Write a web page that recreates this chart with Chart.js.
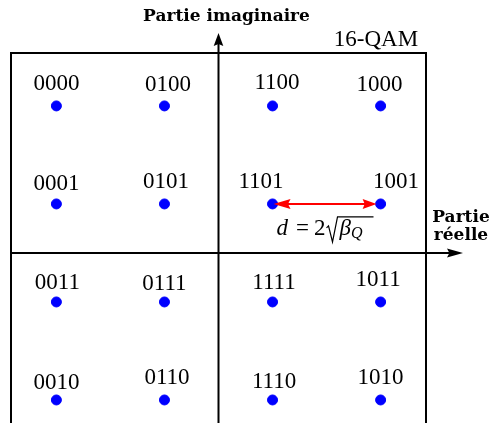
<!DOCTYPE html>
<html>
<head>
<meta charset="utf-8">
<script src="https://cdn.jsdelivr.net/npm/chart.js@4/dist/chart.umd.min.js"></script>
<style>
  html, body { margin: 0; padding: 0; background: #fff; }
  #wrap { width: 489px; height: 423px; }
</style>
</head>
<body>
<div id="wrap"><canvas id="qam" width="489" height="423"></canvas></div>
<script>
// constellation 16-QAM (codage Gray)
const symbols = ['0000', '0100', '1100', '1000',
                 '0001', '0101', '1101', '1001',
                 '0011', '0111', '1111', '1011',
                 '0010', '0110', '1110', '1010'];
const iValues = [-3, -1, 1, 3, -3, -1, 1, 3, -3, -1, 1, 3, -3, -1, 1, 3];
const qValues = [3, 3, 3, 3, 1, 1, 1, 1, -1, -1, -1, -1, -3, -3, -3, -3];
// distance arrow between 1101 and 1001
const distFrom = [1, 1];
const distTo = [3, 1];

// small label nudges (px), purely cosmetic
const labelDx = [0, 3.5, 4.5, -1, 0, 1.5, -11.5, 15.5, 1, 0, 1.5, -2.5, 0, 2.5, 1.5, 0];
const labelDy = [-1.5, -0.5, -2.5, -0.5, 0, -2, -2, -2, 1, 2, 1, -2, 3, -2, 2, -2];

const serif = '"Liberation Serif", "DejaVu Serif", serif';

function arrowHead(ctx, x, y, ang, len, half) {
  ctx.save();
  ctx.translate(x, y);
  ctx.rotate(ang);
  ctx.beginPath();
  ctx.moveTo(0, 0);
  ctx.lineTo(-len, -half);
  ctx.lineTo(-len * 0.85, 0);
  ctx.lineTo(-len, half);
  ctx.closePath();
  ctx.fill();
  ctx.restore();
}

const framePlugin = {
  id: 'frame',
  beforeDatasetsDraw(chart) {
    const ctx = chart.ctx, a = chart.chartArea;
    const xs = chart.scales.x, ys = chart.scales.y;
    const x0 = xs.getPixelForValue(0), y0 = ys.getPixelForValue(0);
    ctx.save();
    ctx.strokeStyle = '#000';
    ctx.fillStyle = '#000';
    ctx.lineWidth = 2;
    // box (open at the bottom, cut by the picture)
    ctx.beginPath();
    ctx.moveTo(a.left, a.bottom + 5);
    ctx.lineTo(a.left, a.top);
    ctx.lineTo(a.right, a.top);
    ctx.lineTo(a.right, a.bottom + 5);
    ctx.stroke();
    // axes
    ctx.beginPath();
    ctx.moveTo(x0, a.bottom + 5);
    ctx.lineTo(x0, a.top - 10);
    ctx.moveTo(a.left, y0);
    ctx.lineTo(a.right + 25, y0);
    ctx.stroke();
    arrowHead(ctx, x0, a.top - 20, -Math.PI / 2, 13, 4.8);
    arrowHead(ctx, a.right + 37, y0, 0, 16, 4.5);

    // axis titles
    ctx.font = 'bold 17px "DejaVu Serif", serif';
    ctx.textAlign = 'center';
    ctx.textBaseline = 'alphabetic';
    ctx.fillText('Partie imaginaire', x0 + 8, 21);
    ctx.fillText('Partie', a.right + 35, 222);
    ctx.fillText('r\u00e9elle', a.right + 35, 240);

    ctx.font = '23px ' + serif;
    ctx.fillText('16-QAM', a.right - 50, 46);
    ctx.restore();
  },
  afterDatasetsDraw(chart) {
    const ctx = chart.ctx;
    const xs = chart.scales.x, ys = chart.scales.y;
    ctx.save();
    // symbol labels
    ctx.fillStyle = '#000';
    ctx.font = '23px ' + serif;
    ctx.textAlign = 'center';
    ctx.textBaseline = 'alphabetic';
    symbols.forEach((s, i) => {
      const px = xs.getPixelForValue(iValues[i]) + labelDx[i];
      const py = ys.getPixelForValue(qValues[i]) - 14 + labelDy[i];
      ctx.fillText(s, px, py);
    });

    // red distance arrow
    const ax = xs.getPixelForValue(distFrom[0]) + 1;
    const bx = xs.getPixelForValue(distTo[0]) - 4;
    const ay = ys.getPixelForValue(distFrom[1]);
    ctx.strokeStyle = '#ff0000';
    ctx.fillStyle = '#ff0000';
    ctx.lineWidth = 2;
    ctx.beginPath();
    ctx.moveTo(ax + 12, ay);
    ctx.lineTo(bx - 10, ay);
    ctx.stroke();
    arrowHead(ctx, ax, ay, Math.PI, 17, 5);
    arrowHead(ctx, bx, ay, 0, 14, 5);

    // d = 2 sqrt(beta_Q)
    ctx.fillStyle = '#000';
    ctx.strokeStyle = '#000';
    ctx.textAlign = 'left';
    const y = ay + 31;
    let x = ax + 3;
    ctx.font = 'italic 23px ' + serif;
    ctx.fillText('d', x, y);
    x += ctx.measureText('d').width + 8;
    ctx.font = '23px ' + serif;
    ctx.fillText('=', x, y);
    x += ctx.measureText('=').width + 5;
    ctx.fillText('2', x, y);
    x += ctx.measureText('2').width;
    // radical drawn by hand
    ctx.lineWidth = 1.2;
    ctx.beginPath();
    ctx.moveTo(x + 1, y - 7);
    ctx.lineTo(x + 3, y - 9);
    ctx.lineTo(x + 7, y + 7);
    ctx.lineTo(x + 12, y - 18);
    ctx.lineTo(x + 48, y - 18);
    ctx.stroke();
    x += 14;
    ctx.font = 'italic 23px ' + serif;
    const bw = ctx.measureText('\u03b2').width;
    ctx.fillText('\u03b2', x, y);
    ctx.font = 'italic 16px ' + serif;
    ctx.fillText('Q', x + bw, y + 3);
    ctx.restore();
  }
};

const points = iValues.map((v, i) => ({ x: v, y: qValues[i] }));

new Chart(document.getElementById('qam'), {
  type: 'scatter',
  data: {
    datasets: [{
      label: '16-QAM',
      data: points,
      backgroundColor: '#0000ff',
      borderColor: '#0000ff',
      pointRadius: 5,
      pointHoverRadius: 5,
      clip: false
    }]
  },
  options: {
    responsive: false,
    animation: false,
    events: [],
    layout: { autoPadding: false, padding: { left: 11, right: 63, top: 53, bottom: 0 } },
    scales: {
      x: { type: 'linear', display: false, min: -3.84, max: 3.84 },
      y: { type: 'linear', display: false, min: -3.47, max: 4.08 }
    },
    plugins: {
      legend: { display: false },
      tooltip: { enabled: false }
    }
  },
  plugins: [framePlugin]
});
</script>
</body>
</html>
